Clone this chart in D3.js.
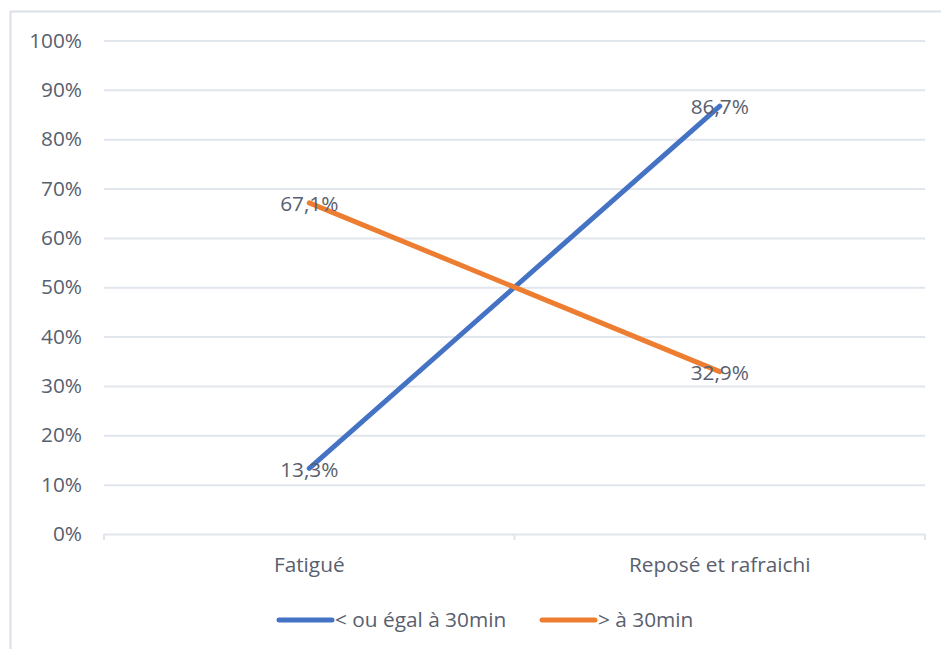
<!DOCTYPE html>
<html>
<head>
<meta charset="utf-8">
<script src="https://cdn.jsdelivr.net/npm/d3@7"></script>
<style>
  html, body { margin: 0; padding: 0; background: #fff; }
  svg { display: block; font-family: "Open Sans", sans-serif; }
</style>
</head>
<body>
<svg id="chart" width="941" height="649"></svg>
<script>
// Durée de sieste vs. ressenti au réveil
const categories = ["Fatigué", "Reposé et rafraichi"];
const seriesNames = ["< ou égal à 30min", "> à 30min"];
const shortNap = [13.3, 86.7];
const longNap = [67.1, 32.9];
const yTicks = [0, 10, 20, 30, 40, 50, 60, 70, 80, 90, 100];
const colors = ["#4472C4", "#ED7D31"];

const svg = d3.select("#chart");
const textColor = "#58606E";
const gridColor = "#E1E5EC";
const fontFamily = "'Open Sans', sans-serif";
const fontSize = 20.8;

// Chart frame (extends past the right and bottom edges)
svg.append("rect")
  .attr("x", 10.5).attr("y", 11.5)
  .attr("width", 960).attr("height", 700)
  .attr("fill", "#fff")
  .attr("stroke", "#DCE1E8").attr("stroke-width", 2);

const plot = { left: 104, right: 925, top: 40.5, bottom: 534 };

const x = d3.scaleBand().domain(categories).range([plot.left, plot.right]);
const y = d3.scaleLinear().domain([0, 100]).range([plot.bottom, plot.top]);

// Horizontal gridlines + y labels
const yAxis = d3.axisLeft(y).tickValues(yTicks)
  .tickSize(-(plot.right - plot.left)).tickPadding(22)
  .tickFormat(d => d + "%");
const gy = svg.append("g").attr("transform", `translate(${plot.left},0)`).call(yAxis);
gy.select(".domain").remove();
gy.selectAll(".tick line").attr("stroke", gridColor).attr("stroke-width", 2);
gy.selectAll(".tick text").attr("fill", textColor).attr("font-size", fontSize)
  .attr("font-family", fontFamily);

// Category axis with tick marks between bands
const xAxis = d3.axisBottom(x).tickSize(0).tickPadding(23);
const gx = svg.append("g").attr("transform", `translate(0,${plot.bottom})`).call(xAxis);
gx.select(".domain").remove();
gx.selectAll(".tick text").attr("fill", textColor).attr("font-size", fontSize)
  .attr("font-family", fontFamily).attr("dy", "0.71em");
const boundaries = [plot.left, ...categories.slice(1).map(c => x(c)), plot.right];
svg.append("g").selectAll("line").data(boundaries).join("line")
  .attr("x1", d => d).attr("x2", d => d)
  .attr("y1", plot.bottom).attr("y2", plot.bottom + 6)
  .attr("stroke", gridColor).attr("stroke-width", 2);

// Lines
const series = [shortNap, longNap];
const line = d3.line()
  .x((d, i) => x(categories[i]) + x.bandwidth() / 2)
  .y(d => y(d));
series.forEach((vals, s) => {
  svg.append("path").datum(vals)
    .attr("d", line)
    .attr("fill", "none")
    .attr("stroke", colors[s])
    .attr("stroke-width", 5)
    .attr("stroke-linecap", "round");
});

// Data labels centred on points
series.forEach((vals, s) => {
  svg.append("g").selectAll("text").data(vals).join("text")
    .attr("x", (d, i) => x(categories[i]) + x.bandwidth() / 2)
    .attr("y", d => y(d))
    .attr("dy", "0.4em")
    .attr("text-anchor", "middle")
    .attr("fill", textColor).attr("font-size", fontSize)
    .text(d => d.toFixed(1).replace(".", ",") + "%");
});

// Legend
const legend = [
  { x0: 279, name: seriesNames[0], color: colors[0] },
  { x0: 542, name: seriesNames[1], color: colors[1] }
];
const lg = svg.append("g");
legend.forEach(l => {
  lg.append("line")
    .attr("x1", l.x0).attr("x2", l.x0 + 53)
    .attr("y1", 620).attr("y2", 620)
    .attr("stroke", l.color).attr("stroke-width", 5)
    .attr("stroke-linecap", "round");
  lg.append("text")
    .attr("x", l.x0 + 56).attr("y", 620).attr("dy", "0.35em")
    .attr("fill", textColor).attr("font-size", fontSize)
    .text(l.name);
});
</script>
</body>
</html>
